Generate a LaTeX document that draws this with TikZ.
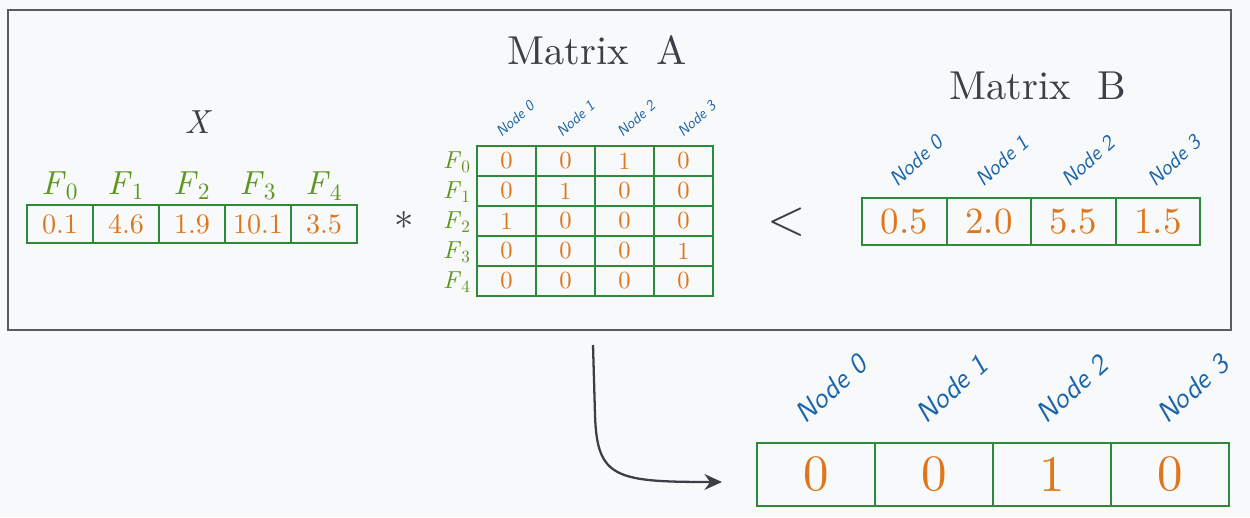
\documentclass[tikz,border=0pt]{standalone}
\usepackage{fontspec}
\setmainfont{lmroman10-regular}[Extension=.otf, ItalicFont=lmroman10-italic, BoldFont=lmroman10-bold]
\setsansfont{lmsans10-regular}[Extension=.otf, ItalicFont=lmsans10-oblique, BoldFont=lmsans10-bold]
\usetikzlibrary{arrows.meta}

\definecolor{bggrey}{RGB}{248,249,250}
\definecolor{inkgrey}{RGB}{60,64,70}
\definecolor{boxgreen}{RGB}{45,138,58}
\definecolor{featgreen}{RGB}{95,150,30}
\definecolor{valorange}{RGB}{222,118,28}
\definecolor{nodeblue}{RGB}{25,100,170}

\newcommand{\feat}[1]{\textit{F}\textsubscript{\upshape #1}}

\tikzset{
  cellbox/.style={draw=boxgreen, line width=1.2pt, inner sep=0pt, text=valorange},
  nodelabel/.style={text=nodeblue, rotate=42, inner sep=0pt},
  featlabel/.style={text=featgreen, inner sep=0pt},
  title/.style={text=inkgrey, font=\fontsize{23}{26}\selectfont},
}

\begin{document}
\begin{tikzpicture}[x=0.02cm, y=-0.02cm]

% background and frame
\fill[bggrey] (0,0) rectangle (1250,517);
\useasboundingbox (0,0) rectangle (1250,517);
\draw[inkgrey!85, line width=1.2pt] (8,10) rectangle (1231,330);

% vector X
\node[text=inkgrey, font=\itshape\fontsize{19}{22}\selectfont] (xname) at (197,122) {X};
\foreach \v [count=\i from 0] in {0.1,4.6,1.9,10.1,3.5} {
  \node[cellbox, minimum width=1.32cm, minimum height=0.76cm,
        font=\fontsize{16}{18}\selectfont] (x\i) at ({60+66*\i},224) {\v};
  \node[featlabel, font=\fontsize{19}{22}\selectfont] (xf\i) at ({60+66*\i},186) {\feat{\i}};
}
\node[text=inkgrey, font=\fontsize{22}{24}\selectfont] (times) at (404,226) {*};

% matrix A
\node[title] (nameA) at (597,50) {Matrix\ \ A};
\foreach \row [count=\r from 0] in {{0,0,1,0},{0,1,0,0},{1,0,0,0},{0,0,0,1},{0,0,0,0}} {
  \node[featlabel, font=\fontsize{14}{16}\selectfont] (af\r) at (457,{162+30*\r}) {\feat{\r}};
  \foreach \v [count=\c from 0] in \row {
    \node[cellbox, minimum width=1.18cm, minimum height=0.6cm,
          font=\fontsize{14}{16}\selectfont] (a\r\c) at ({506.5+59*\c},{161+30*\r}) {\v};
  }
}
\foreach \c in {0,...,3}
  \node[nodelabel, font=\sffamily\itshape\fontsize{8.5}{10}\selectfont] (an\c) at ({515+60.5*\c},119) {Node \c};

\node[text=inkgrey, font=\fontsize{28}{30}\selectfont] (less) at (787,222) {<};

% matrix B
\node[title] (nameB) at (1038,86) {Matrix\ \ B};
\foreach \v [count=\i from 0] in {0.5,2.0,5.5,1.5} {
  \node[cellbox, minimum width=1.69cm, minimum height=0.94cm,
        font=\fontsize{21}{24}\selectfont] (b\i) at ({904.5+84.5*\i},221.5) {\v};
  \node[nodelabel, font=\sffamily\itshape\fontsize{12}{14}\selectfont] (bn\i) at ({916+86*\i},161) {Node \i};
}

% result
\foreach \v [count=\i from 0] in {0,0,1,0} {
  \node[cellbox, minimum width=2.36cm, minimum height=1.26cm,
        font=\fontsize{29}{31}\selectfont] (res\i) at ({816+118*\i},474.5) {\v};
  \node[nodelabel, font=\sffamily\itshape\fontsize{16}{18}\selectfont] (rn\i) at ({831+120.5*\i},389) {Node \i};
}

\coordinate (arrowfrom) at (593,345);
\coordinate (arrowto) at (722,482);
\draw[inkgrey, line width=1.3pt, -{Stealth[length=10pt,width=9pt]}]
  (arrowfrom) -- (595,415) .. controls (597,478) and (615,482) .. (arrowto);

\end{tikzpicture}
\end{document}
